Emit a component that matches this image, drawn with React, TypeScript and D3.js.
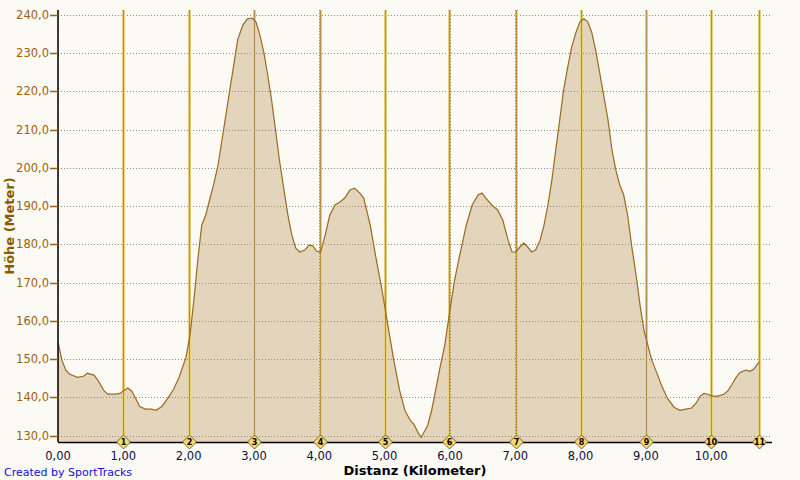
import React from "react";
import * as d3 from "d3";

const distKm = [
  0.0, 0.06, 0.12, 0.18, 0.3, 0.39, 0.45, 0.55, 0.61, 0.7, 0.76, 0.87, 0.95, 1.01, 1.07, 1.13, 1.19, 1.25, 1.34,
  1.43, 1.5, 1.59, 1.68, 1.77, 1.86, 1.96, 2.02, 2.08, 2.14, 2.2, 2.26, 2.32, 2.38, 2.45, 2.51, 2.57, 2.63,
  2.69, 2.75, 2.83, 2.9, 2.97, 3.03, 3.09, 3.15, 3.21, 3.27, 3.33, 3.39, 3.46, 3.52, 3.58, 3.64, 3.7, 3.78,
  3.84, 3.9, 3.96, 4.02, 4.09, 4.16, 4.24, 4.31, 4.39, 4.47, 4.54, 4.62, 4.68, 4.78, 4.86, 4.96, 5.05, 5.14,
  5.23, 5.31, 5.39, 5.45, 5.51, 5.56, 5.6, 5.66, 5.72, 5.78, 5.84, 5.92, 6.0, 6.07, 6.15, 6.25, 6.34, 6.43,
  6.49, 6.55, 6.64, 6.73, 6.81, 6.89, 6.95, 7.01, 7.07, 7.13, 7.19, 7.25, 7.31, 7.38, 7.44, 7.5, 7.56, 7.62,
  7.68, 7.74, 7.8, 7.86, 7.93, 7.99, 8.05, 8.11, 8.17, 8.23, 8.29, 8.36, 8.42, 8.48, 8.54, 8.6, 8.66, 8.72,
  8.78, 8.85, 8.91, 8.97, 9.03, 9.09, 9.15, 9.24, 9.33, 9.43, 9.52, 9.61, 9.7, 9.77, 9.83, 9.89, 9.95, 10.01,
  10.1, 10.19, 10.25, 10.32, 10.38, 10.44, 10.53, 10.59, 10.65, 10.73,
];

const elevM = [
  154.4, 149.7, 147.1, 146.0, 145.2, 145.5, 146.3, 145.8, 144.5, 141.8, 140.8, 140.8, 141.0, 141.8, 142.4, 141.6, 139.7, 137.6, 136.9,
  136.9, 136.6, 137.6, 139.7, 142.1, 145.5, 150.5, 156.2, 165.4, 175.9, 185.0, 187.6, 191.6, 195.5, 200.7, 207.3, 213.8, 220.4,
  226.9, 233.5, 237.4, 239.0, 239.2, 238.2, 234.8, 230.3, 224.3, 217.7, 209.9, 202.0, 194.2, 187.6, 182.4, 179.0, 178.0, 178.5,
  179.8, 179.6, 178.2, 178.0, 182.4, 187.6, 190.3, 191.0, 192.1, 194.2, 194.7, 193.4, 192.1, 185.0, 177.2, 168.0, 158.8, 149.7,
  141.8, 136.6, 134.0, 132.9, 130.8, 129.5, 130.8, 132.7, 136.6, 141.8, 147.1, 153.6, 162.8, 170.6, 177.2, 185.0, 190.3, 192.9,
  193.4, 192.1, 190.3, 189.0, 186.3, 181.1, 178.0, 178.0, 179.3, 180.3, 179.3, 178.0, 178.5, 181.1, 185.0, 190.3, 196.8, 204.7,
  212.5, 220.4, 226.1, 231.4, 235.5, 238.2, 239.0, 238.2, 235.5, 230.8, 225.1, 218.3, 212.5, 204.7, 199.4, 195.5, 192.9, 187.6,
  179.8, 171.9, 164.1, 157.5, 153.6, 149.7, 147.1, 143.1, 139.7, 137.4, 136.6, 136.9, 137.2, 138.5, 140.3, 141.0, 140.8, 140.3,
  140.3, 140.8, 141.6, 143.4, 145.2, 146.5, 147.1, 146.8, 147.3, 149.2,
];

const yTicks = [130, 140, 150, 160, 170, 180, 190, 200, 210, 220, 230, 240];
const xTicks = [0, 1, 2, 3, 4, 5, 6, 7, 8, 9, 10];
const markerKm = [0.995, 2.006, 3.004, 4.008, 5.004, 5.988, 7.005, 8.0, 9.0, 9.996, 10.73];
const markerLabels = ["1", "2", "3", "4", "5", "6", "7", "8", "9", "10", "11"];

const FONT = "'DejaVu Sans', Verdana, sans-serif";

export default function App() {
  const W = 800;
  const H = 480;
  const left = 58;
  const right = 772;
  const top = 10;
  const bottom = 442;

  const x = d3.scaleLinear().domain([0, 10.93]).range([left, right]);
  const y = d3.scaleLinear().domain([128.3, 241.3]).range([bottom, top]);

  const pts: [number, number][] = distKm.map((d, i) => [d, elevM[i]]);
  const area = d3
    .area<[number, number]>()
    .x((d) => x(d[0]))
    .y0(bottom)
    .y1((d) => y(d[1]));
  const line = d3
    .line<[number, number]>()
    .x((d) => x(d[0]))
    .y((d) => y(d[1]));

  const fmtY = (v: number) => v.toFixed(1).replace(".", ",");
  const fmtX = (v: number) => v.toFixed(2).replace(".", ",");

  return (
    <svg
      width={W}
      height={H}
      style={{ position: "absolute", left: 0, top: 0, display: "block" }}
    >
      <rect x={0} y={0} width={W} height={H} fill="#FBFAF5" />
      <path d={area(pts) || ""} fill="#E3D4BC" />
      {yTicks.map((t) => (
        <line
          key={"gy" + t}
          x1={left}
          x2={right}
          y1={Math.round(y(t)) + 0.5}
          y2={Math.round(y(t)) + 0.5}
          stroke="#8E8A80"
          strokeWidth={1}
          strokeDasharray="1,2"
        />
      ))}
      {markerKm.map((m, i) => (
        <g key={"ml" + i}>
          <line
            x1={Math.round(x(m)) + 0.5}
            x2={Math.round(x(m)) + 0.5}
            y1={top}
            y2={bottom}
            stroke="#EBCF80"
            strokeWidth={3}
          />
          <line
            x1={Math.round(x(m)) + 0.5}
            x2={Math.round(x(m)) + 0.5}
            y1={top}
            y2={bottom}
            stroke="#B8923A"
            strokeWidth={1}
          />
        </g>
      ))}
      {xTicks.map((t) => (
        <line
          key={"gx" + t}
          x1={Math.round(x(t)) + 0.5}
          x2={Math.round(x(t)) + 0.5}
          y1={top}
          y2={bottom}
          stroke="#8E8A80"
          strokeWidth={1}
          strokeDasharray="1,2"
        />
      ))}
      <path d={line(pts) || ""} fill="none" stroke="#9C6A1E" strokeWidth={1.2} />
      <line x1={left} x2={left} y1={top} y2={bottom} stroke="#000" strokeWidth={1.5} />
      <line x1={left} x2={right} y1={bottom + 0.5} y2={bottom + 0.5} stroke="#000" strokeWidth={1.5} />
      {yTicks.map((t) => (
        <g key={"yt" + t}>
          <line
            x1={left - 8}
            x2={left}
            y1={Math.round(y(t)) + 0.5}
            y2={Math.round(y(t)) + 0.5}
            stroke="#A0600A"
            strokeWidth={1.5}
          />
          <text
            x={left - 9}
            y={y(t) + 4}
            textAnchor="end"
            fontFamily={FONT}
            fontSize={11.5}
            fill="#A0600A"
          >
            {fmtY(t)}
          </text>
        </g>
      ))}
      {xTicks.map((t) => (
        <text
          key={"xt" + t}
          x={x(t)}
          y={460}
          textAnchor="middle"
          fontFamily={FONT}
          fontSize={11.5}
          fill="#10103A"
        >
          {fmtX(t)}
        </text>
      ))}
      {markerKm.map((m, i) => {
        const cx = Math.round(x(m)) + 0.5;
        const cy = bottom;
        const s = 7;
        return (
          <g key={"md" + i}>
            <path
              d={`M${cx},${cy - s}L${cx + s},${cy}L${cx},${cy + s}L${cx - s},${cy}Z`}
              fill="#F5D870"
              stroke="#5A4A20"
              strokeWidth={0.8}
            />
            <text
              x={cx}
              y={cy + 3}
              textAnchor="middle"
              fontFamily={FONT}
              fontSize={8}
              fontWeight="bold"
              fill="#000"
            >
              {markerLabels[i]}
            </text>
          </g>
        );
      })}
      <text
        x={(left + right) / 2}
        y={475}
        textAnchor="middle"
        fontFamily={FONT}
        fontSize={13}
        fontWeight="bold"
        fill="#000"
      >
        Distanz (Kilometer)
      </text>
      <text
        transform={`translate(14,${(top + bottom) / 2}) rotate(-90)`}
        textAnchor="middle"
        fontFamily={FONT}
        fontSize={13}
        fontWeight="bold"
        fill="#8B5A00"
      >
        Höhe (Meter)
      </text>
      <text x={4} y={476} fontFamily={FONT} fontSize={11} fill="#1010E0">
        Created by SportTracks
      </text>
    </svg>
  );
}
